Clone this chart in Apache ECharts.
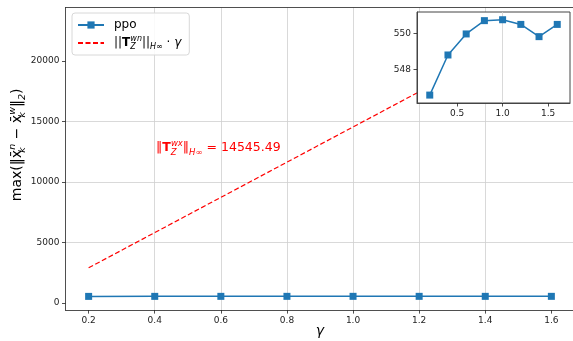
<!DOCTYPE html>
<html>
<head>
<meta charset="utf-8">
<script src="https://cdn.jsdelivr.net/npm/echarts@6/dist/echarts.min.js"></script>
<style>html,body{margin:0;padding:0;background:#fff;}#c{width:573px;height:341px;}</style>
</head>
<body>
<div id="c"></div>
<script>
const gammas = [0.2, 0.4, 0.6, 0.8, 1.0, 1.2, 1.4, 1.6];
const ppoValues = [546.56, 548.79, 549.96, 550.70, 550.75, 550.49, 549.81, 550.49];
const boundValues = [2909.10, 5818.20, 8727.29, 11636.39, 14545.49, 17454.59, 20363.69, 23272.78];
const hInfNorm = '14545.49';
const mainXTicks = [0.2, 0.4, 0.6, 0.8, 1.0, 1.2, 1.4, 1.6];
const mainYTicks = [0, 5000, 10000, 15000, 20000];
const insetXTicks = [0.5, 1.0, 1.5];
const insetYTicks = [548, 550];

const ppoData = gammas.map((g, i) => [g, ppoValues[i]]);
const boundData = gammas.map((g, i) => [g, boundValues[i]]);

const BLUE = '#1f77b4';
const FONT = 'DejaVu Sans';
const lbl = { fontFamily: FONT, fontSize: 9, color: '#222' };
const tick = { show: true, length: 3.5, lineStyle: { color: '#222', width: 0.8 } };
const gridLine = { show: true, showMinLine: false, showMaxLine: false, lineStyle: { color: '#cfcfcf', width: 0.8 } };

function rich(size, small, color, mainLH, supLH, subLH) {
  return {
    n: { fontFamily: FONT, fontSize: size, color: color, fill: color, lineHeight: mainLH },
    t: { fontFamily: FONT, fontSize: size, color: color, fill: color, lineHeight: mainLH, padding: [0, 0, 0, 5] },
    b: { fontFamily: FONT, fontSize: size, color: color, fill: color, fontWeight: 'bold', lineHeight: mainLH },
    i: { fontFamily: FONT, fontSize: size, color: color, fill: color, fontStyle: 'italic', lineHeight: mainLH },
    sup: { fontFamily: FONT, fontSize: small, color: color, fill: color, fontStyle: 'italic', verticalAlign: 'top', lineHeight: supLH },
    sub: { fontFamily: FONT, fontSize: small, color: color, fill: color, fontStyle: 'italic', verticalAlign: 'bottom', lineHeight: subLH },
    sub0: { fontFamily: FONT, fontSize: small, color: color, fill: color, fontStyle: 'italic', verticalAlign: 'bottom', lineHeight: subLH, width: 0.1 }
  };
}

const chart = echarts.init(document.getElementById('c'), null, { renderer: 'canvas' });
chart.setOption({
  animation: false,
  backgroundColor: '#fff',
  textStyle: { fontFamily: FONT },
  grid: [
    { left: 65.5, top: 7.6, width: 509, height: 302.5, show: false,
      containLabel: false, outerBoundsMode: 'none' },
    { left: 417, top: 12, width: 153, height: 91, show: true, borderColor: '#444', borderWidth: 1,
      backgroundColor: '#fff', z: 10, containLabel: false, outerBoundsMode: 'none' }
  ],
  xAxis: [
    { type: 'value', gridIndex: 0, min: 0.13, max: 1.67, position: 'bottom',
      axisLine: { show: true, onZero: false, lineStyle: { color: '#222', width: 0.8 } },
      axisTick: Object.assign({ customValues: mainXTicks }, tick),
      axisLabel: Object.assign({ customValues: mainXTicks, margin: 6, formatter: v => v.toFixed(1) }, lbl),
      splitLine: gridLine,
      name: 'γ', nameLocation: 'middle', nameGap: 14, nameMoveOverlap: false,
      nameTextStyle: { fontFamily: FONT, fontSize: 14, fontStyle: 'italic', color: '#000' } },
    { type: 'value', gridIndex: 1, min: 0.06, max: 1.74, z: 11,
      axisLine: { show: true, onZero: false, lineStyle: { color: '#444', width: 1 } },
      axisTick: Object.assign({ customValues: insetXTicks }, tick),
      axisLabel: Object.assign({ customValues: insetXTicks, margin: 6, formatter: v => v.toFixed(1) }, lbl),
      splitLine: gridLine },
    { type: 'value', gridIndex: 0, min: 0.13, max: 1.67, position: 'top',
      axisLine: { show: true, onZero: false, lineStyle: { color: '#222', width: 0.8 } },
      axisTick: { show: false }, axisLabel: { show: false }, splitLine: { show: false } }
  ],
  yAxis: [
    { type: 'value', gridIndex: 0, min: -586, max: 24409,
      axisLine: { show: true, onZero: false, lineStyle: { color: '#222', width: 0.8 } },
      axisTick: Object.assign({ customValues: mainYTicks }, tick),
      axisLabel: Object.assign({ customValues: mainYTicks, margin: 6, formatter: v => String(v) }, lbl),
      splitLine: gridLine,
      name: '{n|max(‖x̄}{sub0|k}{sup|n}{n| − x̄}{sub0|k}{sup|w}{n|‖}{sub|2}{n|)}',
      nameLocation: 'middle', nameGap: 38, nameMoveOverlap: false,
      nameTextStyle: { fontFamily: FONT, color: '#000', padding: [0, 0, 0, 28],
        rich: rich(14, 9.5, '#000', 20, 10, 10) } },
    { type: 'value', gridIndex: 1, min: 546.12, max: 551.18, z: 11,
      axisLine: { show: true, onZero: false, lineStyle: { color: '#444', width: 1 } },
      axisTick: Object.assign({ customValues: insetYTicks }, tick),
      axisLabel: Object.assign({ customValues: insetYTicks, margin: 6, formatter: v => String(v) }, lbl),
      splitLine: gridLine }
  ],
  legend: {
    data: ['ppo', { name: 'bound', itemStyle: { color: 'rgba(0,0,0,0)', borderWidth: 0 } }],
    orient: 'vertical', left: 72, top: 13,
    itemWidth: 26, itemHeight: 9, itemGap: 4,
    padding: [6, 8, 4, 5],
    backgroundColor: 'rgba(255,255,255,0.85)',
    borderColor: '#d8d8d8', borderWidth: 1, borderRadius: 3,
    selectedMode: false,
    formatter: function (name) {
      if (name === 'ppo') return '{t|ppo}';
      return '{t|||}{b|T}{sub0|Z}{sup|wn}{n|||}{sub|H∞}{n| · }{i|γ}';
    },
    textStyle: { fontFamily: FONT, fontSize: 12, color: '#000', rich: rich(12, 8, '#000', 16, 8, 10) }
  },
  graphic: [{
    type: 'text', left: 156, top: 139, z: 5,
    style: {
      text: '{n|‖}{b|T}{sub0|Z}{sup|wx}{n|‖}{sub|H∞}{n| = ' + hInfNorm + '}',
      rich: rich(12.5, 8.5, '#f00', 18, 8, 11)
    }
  }],
  series: [
    { name: 'ppo', type: 'line', xAxisIndex: 0, yAxisIndex: 0, data: ppoData,
      symbol: 'rect', symbolSize: 7, color: BLUE, itemStyle: { color: BLUE },
      lineStyle: { color: BLUE, width: 1.5 }, z: 3 },
    { name: 'bound', type: 'line', xAxisIndex: 0, yAxisIndex: 0, data: boundData,
      symbol: 'none', color: '#f00',
      lineStyle: { color: '#f00', width: 1.2, type: [5, 2.5] }, z: 2 },
    { name: 'ppo-inset', type: 'line', xAxisIndex: 1, yAxisIndex: 1, data: ppoData,
      symbol: 'rect', symbolSize: 7, itemStyle: { color: BLUE },
      lineStyle: { color: BLUE, width: 1.5 }, z: 12 }
  ]
});
</script>
</body>
</html>
